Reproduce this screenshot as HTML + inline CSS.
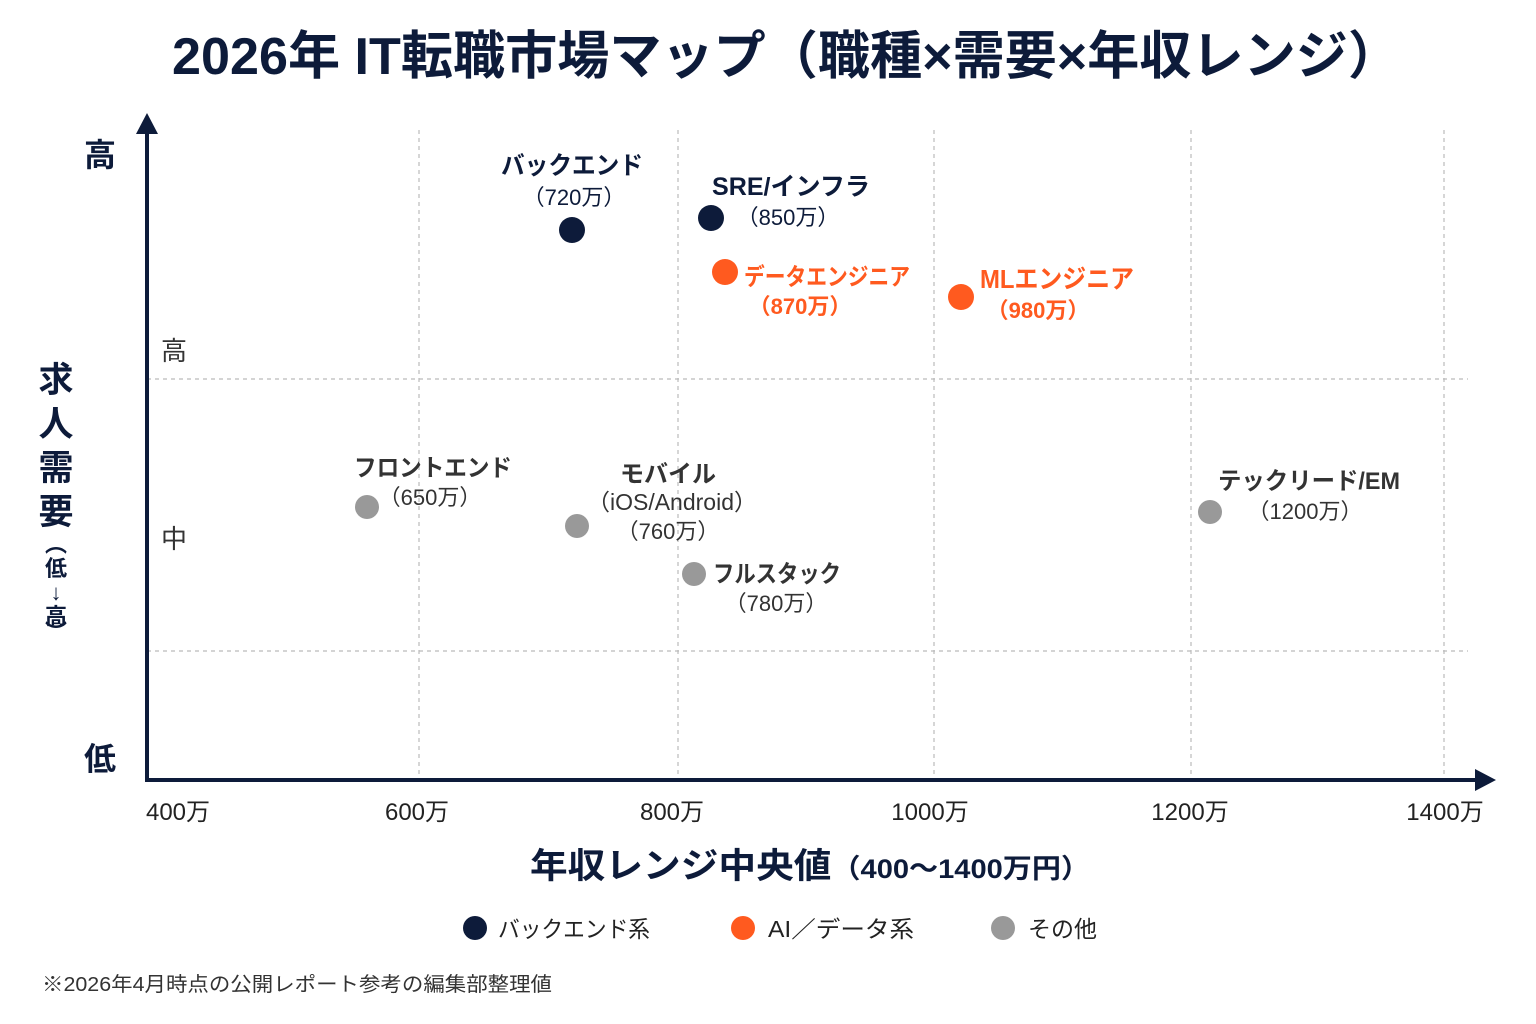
<!DOCTYPE html>
<html><head><meta charset="utf-8"><style>
html,body{margin:0;padding:0;background:#fff;}
svg{display:block;font-family:"Liberation Sans","Noto Sans CJK JP",sans-serif;}
.b{font-weight:700}
</style></head><body>
<svg width="1536" height="1024" viewBox="0 0 1536 1024" xmlns="http://www.w3.org/2000/svg">
<text x="786" y="74" text-anchor="middle" class="b" font-size="52" fill="#0d1b3a" textLength="1228" lengthAdjust="spacingAndGlyphs">2026年 IT転職市場マップ（職種×需要×年収レンジ）</text>
<g stroke="#bbb" stroke-width="1.2" stroke-dasharray="4,4">
<line x1="419" y1="130" x2="419" y2="780"/><line x1="678" y1="130" x2="678" y2="780"/>
<line x1="934" y1="130" x2="934" y2="780"/><line x1="1191" y1="130" x2="1191" y2="780"/>
<line x1="1444" y1="130" x2="1444" y2="780"/>
<line x1="147" y1="379" x2="1468" y2="379"/><line x1="147" y1="651" x2="1468" y2="651"/>
</g>
<line x1="147" y1="130" x2="147" y2="781" stroke="#0d1b3a" stroke-width="4"/>
<polygon points="147,113 136,134 158,134" fill="#0d1b3a"/>
<line x1="145" y1="780" x2="1478" y2="780" stroke="#0d1b3a" stroke-width="4"/>
<polygon points="1496,780 1475,769 1475,791" fill="#0d1b3a"/>
<text x="100" y="166" text-anchor="middle" class="b" font-size="32" fill="#0d1b3a">高</text>
<text x="100" y="770" text-anchor="middle" class="b" font-size="32" fill="#0d1b3a">低</text>
<text x="174" y="360" text-anchor="middle" font-size="26" fill="#333">高</text>
<text x="174" y="548" text-anchor="middle" font-size="26" fill="#333">中</text>
<g class="b" font-size="35" fill="#0d1b3a" text-anchor="middle">
<text x="56" y="392">求</text><text x="56" y="436">人</text><text x="56" y="480">需</text><text x="56" y="524">要</text></g>
<g class="b" font-size="22" fill="#0d1b3a" text-anchor="middle">
<text x="56" y="552">︵</text><text x="56" y="576">低</text><text x="56" y="600">↓</text><text x="56" y="624">高</text><text x="56" y="640">︶</text></g>
<g font-size="24" fill="#222" text-anchor="middle">
<text x="178" y="820">400万</text><text x="417" y="820">600万</text><text x="672" y="820">800万</text>
<text x="930" y="820">1000万</text><text x="1190" y="820">1200万</text><text x="1445" y="820">1400万</text></g>
<text x="810" y="878" text-anchor="middle" fill="#0d1b3a" textLength="560" lengthAdjust="spacingAndGlyphs"><tspan class="b" font-size="35">年収レンジ中央値</tspan><tspan font-size="27" class="b">（400〜1400万円）</tspan></text>
<circle cx="475" cy="928" r="12" fill="#0d1b3a"/><text x="498" y="937" font-size="23" fill="#222" textLength="152" lengthAdjust="spacingAndGlyphs">バックエンド系</text>
<circle cx="743" cy="928" r="12" fill="#ff5a1f"/><text x="768" y="937" font-size="23" fill="#222" textLength="146" lengthAdjust="spacingAndGlyphs">AI／データ系</text>
<circle cx="1003" cy="928" r="12" fill="#999"/><text x="1028" y="937" font-size="23" fill="#222">その他</text>
<text x="42" y="991" font-size="20" fill="#333" textLength="510" lengthAdjust="spacingAndGlyphs">※2026年4月時点の公開レポート参考の編集部整理値</text>
<circle cx="572" cy="230" r="13" fill="#0d1b3a"/>
<circle cx="711" cy="218" r="13" fill="#0d1b3a"/>
<circle cx="725" cy="272" r="13" fill="#ff5a1f"/>
<circle cx="961" cy="297" r="13" fill="#ff5a1f"/>
<circle cx="367" cy="507" r="12" fill="#999"/>
<circle cx="577" cy="526" r="12" fill="#999"/>
<circle cx="694" cy="574" r="12" fill="#999"/>
<circle cx="1210" cy="512" r="12" fill="#999"/>
<g font-size="25" class="b" fill="#0d1b3a">
<text x="572" y="174" text-anchor="middle" textLength="142" lengthAdjust="spacingAndGlyphs">バックエンド</text>
<text x="574" y="205" text-anchor="middle" font-size="22" font-weight="400">（720万）</text>
<text x="712" y="195" textLength="158" lengthAdjust="spacingAndGlyphs">SRE/インフラ</text>
<text x="788" y="225" text-anchor="middle" font-size="22" font-weight="400">（850万）</text>
</g>
<g font-size="24" class="b" fill="#ff5a1f">
<text x="744" y="285" textLength="166" lengthAdjust="spacingAndGlyphs">データエンジニア</text>
<text x="800" y="314" text-anchor="middle" font-size="22">（870万）</text>
<text x="980" y="288" font-size="26" textLength="154" lengthAdjust="spacingAndGlyphs">MLエンジニア</text>
<text x="1038" y="318" text-anchor="middle" font-size="22">（980万）</text>
</g>
<g font-size="24" fill="#333">
<text x="354" y="476" class="b" textLength="158" lengthAdjust="spacingAndGlyphs">フロントエンド</text>
<text x="430" y="505" text-anchor="middle" font-size="22">（650万）</text>
<text x="668" y="482" text-anchor="middle" class="b">モバイル</text>
<text x="672" y="510" text-anchor="middle" font-size="23">（iOS/Android）</text>
<text x="668" y="539" text-anchor="middle" font-size="22">（760万）</text>
<text x="713" y="582" class="b" textLength="128" lengthAdjust="spacingAndGlyphs">フルスタック</text>
<text x="776" y="611" text-anchor="middle" font-size="22">（780万）</text>
<text x="1218" y="489" class="b" textLength="182" lengthAdjust="spacingAndGlyphs">テックリード/EM</text>
<text x="1305" y="519" text-anchor="middle" font-size="22">（1200万）</text>
</g>
</svg>
</body></html>
